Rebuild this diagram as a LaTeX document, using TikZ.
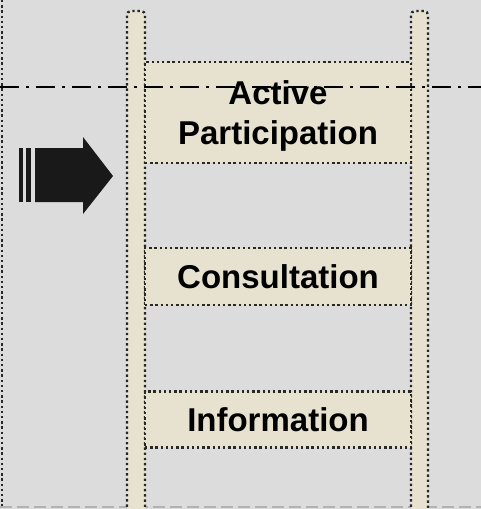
\documentclass[tikz,border=0pt]{standalone}
\usepackage{fontspec}
\setmainfont{Liberation Sans}
\usetikzlibrary{positioning}
\definecolor{bgGrey}{RGB}{220,220,221}
\definecolor{rungFill}{RGB}{231,226,207}
\definecolor{dotGrey}{RGB}{40,40,35}

\begin{document}
\begin{tikzpicture}[x=1pt, y=-1pt,
    rung/.style={rectangle, draw=dotGrey, line width=2.4pt, dash pattern=on 2.4pt off 2.8pt, fill=rungFill, minimum width=266pt, inner sep=0pt, align=center, font=\fontsize{33}{40}\selectfont\bfseries},
    rail/.style={draw=dotGrey, line width=2.4pt, dash pattern=on 2.4pt off 2.8pt, fill=rungFill, rounded corners=4pt},
    midline/.style={line width=2pt, dash pattern=on 19pt off 7pt on 3pt off 7pt},
    edgeline/.style={draw=dotGrey, line width=2.4pt, dash pattern=on 2.4pt off 2.8pt}]

    % background and frame
    \fill[bgGrey] (0,0) rectangle (481,509);
    \useasboundingbox (0,0) rectangle (481,509);
    \draw[edgeline] (2,0) -- (2,509);
    \draw[gray!60, line width=1.5pt, dash pattern=on 12pt off 5pt] (0,507) -- (481,507);

    % ladder rails
    \draw[rail] (127,512) -- (127,11) -- (145,11) -- (145,512);
    \draw[rail] (411,512) -- (411,11) -- (428,11) -- (428,512);

    % ladder rungs
    \node[rung, minimum height=101pt, text depth=0pt] (active) at (278,112.5) {Active\\Participation};
    \node[rung, minimum height=57pt] (consult) at (278,276.5) {Consultation};
    \node[rung, minimum height=56pt] (inform) at (278,419.5) {Information};

    % threshold line
    \coordinate (lineW) at (0,87);
    \coordinate (lineE) at (481,87);
    \draw[midline] (lineW) -- (lineE);

    % arrow pointing at the ladder
    \fill[black!90] (35,148) -- (83,148) -- (83,137) -- (113,176) -- (83,214) -- (83,202) -- (35,202) -- cycle;
    \fill[black!90] (19,148) rectangle (23,202);
    \fill[black!90] (26,148) rectangle (31,202);
\end{tikzpicture}
\end{document}
